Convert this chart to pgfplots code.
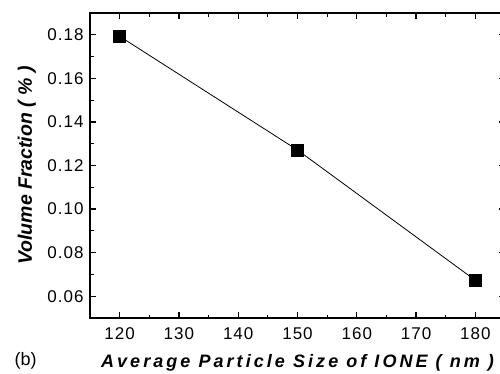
\documentclass[border=0pt]{standalone}
\usepackage{fontspec}
\setmainfont{Liberation Sans}
\newfontfamily\spacedfont[LetterSpace=17]{Liberation Sans}
\newfontfamily\tickfont[LetterSpace=6]{Liberation Sans}
\usepackage{pgfplots}
\pgfplotsset{compat=1.18}

\begin{document}
\begin{tikzpicture}
\useasboundingbox (0,0) rectangle (500pt,373pt);
\clip (0,0) rectangle (500pt,373pt);
\begin{axis}[
  at={(90pt,55pt)}, anchor=south west,
  scale only axis,
  width=415pt, height=305pt,
  xmin=115, xmax=185,
  ymin=0.05, ymax=0.19,
  xtick={120,130,140,150,160,170,180},
  ytick={0.06,0.08,0.10,0.12,0.14,0.16,0.18},
  minor x tick num=1,
  minor y tick num=1,
  tick align=inside,
  major tick length=6pt,
  minor tick length=3.5pt,
  axis line style={line width=1.4pt},
  every tick/.style={line width=1.2pt, black},
  tick label style={font=\tickfont\fontsize{17}{20}\selectfont},
  /pgf/number format/assume math mode=true,
  yticklabel style={
    /pgf/number format/fixed,
    /pgf/number format/fixed zerofill,
    /pgf/number format/precision=2,
    xshift=-3pt},
  xticklabel style={yshift=-6.5pt},
  xlabel={\spacedfont\bfseries\itshape Average Particle Size of IONE ( nm )},
  xlabel style={at={(axis description cs:0.5,-0.1607)}, anchor=base, font=\fontsize{18}{21}\selectfont},
  ylabel={\bfseries\itshape Volume Fraction ( \% )},
  ylabel style={at={(axis description cs:-0.1398,0.5)}, anchor=base, font=\fontsize{19.5}{23}\selectfont},
  clip=false,
]
\addplot[black, line width=0.8pt, mark=square*, mark size=6pt,
  mark options={solid, fill=black}]
  coordinates {(120,0.1793) (150,0.1271) (180,0.0673)};
\node[anchor=base, font=\fontsize{18}{21}\selectfont] at (axis description cs:-0.1554,-0.157) {(b)};
\end{axis}
\end{tikzpicture}
\end{document}
